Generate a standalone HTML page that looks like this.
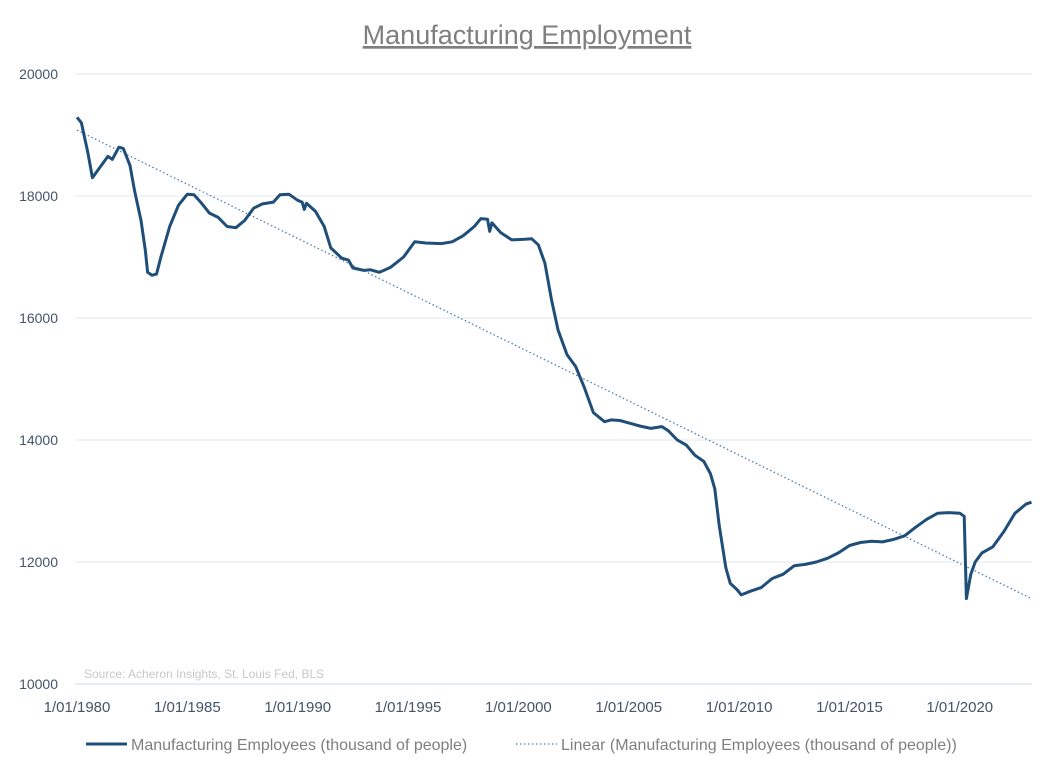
<!DOCTYPE html>
<html><head><meta charset="utf-8">
<style>
body{margin:0;background:#fff;font-family:"Liberation Sans",sans-serif;}
svg text{font-family:"Liberation Sans",sans-serif;}
</style></head>
<body>
<svg width="1056" height="768">
<text x="527" y="44" text-anchor="middle" font-size="27" fill="#7f7f7f" text-decoration="underline">Manufacturing Employment</text>
<g id="grid"></g>
<g id="yticks"></g>
<g id="xticks"></g>
<text x="84" y="678" font-size="12" fill="#c8c8c8">Source: Acheron Insights, St. Louis Fed, BLS</text>
<path id="trend" fill="none" stroke="#4a7fb0" stroke-width="1.3" stroke-dasharray="1.5,2.5"/>
<path id="series" fill="none" stroke="#1f4e79" stroke-width="3" stroke-linejoin="round"/>
<g>
<line x1="86" y1="744" x2="127" y2="744" stroke="#1f4e79" stroke-width="3"/>
<text x="131" y="750" font-size="16" fill="#7f7f7f">Manufacturing Employees (thousand of people)</text>
<line x1="516" y1="744" x2="557" y2="744" stroke="#4a7fb0" stroke-width="1.3" stroke-dasharray="1.5,2.5"/>
<text x="561" y="750" font-size="16" fill="#7f7f7f">Linear (Manufacturing Employees (thousand of people))</text>
</g>
</svg>
<script>
const yTicks=[10000,12000,14000,16000,18000,20000];
const xTickYears=[1980,1985,1990,1995,2000,2005,2010,2015,2020];
const xTickLabels=["1/01/1980","1/01/1985","1/01/1990","1/01/1995","1/01/2000","1/01/2005","1/01/2010","1/01/2015","1/01/2020"];
const years=[1980.0,1980.2,1980.5,1980.7,1981,1981.4,1981.6,1981.9,1982.1,1982.4,1982.6,1982.9,1983.1,1983.2,1983.4,1983.6,1983.8,1984.2,1984.6,1985,1985.3,1985.6,1986,1986.4,1986.8,1987.2,1987.6,1988,1988.4,1988.9,1989.2,1989.6,1990,1990.2,1990.3,1990.4,1990.8,1991.2,1991.5,1992,1992.3,1992.5,1993,1993.3,1993.7,1994.2,1994.8,1995.3,1995.8,1996.5,1997,1997.5,1998,1998.3,1998.6,1998.7,1998.8,1999.2,1999.7,2000.3,2000.6,2000.9,2001.2,2001.5,2001.8,2002.2,2002.6,2003,2003.4,2003.9,2004.2,2004.6,2005,2005.5,2006,2006.5,2006.8,2007.2,2007.6,2008,2008.4,2008.7,2008.9,2009.1,2009.4,2009.6,2009.9,2010.1,2010.5,2011,2011.5,2012,2012.5,2013,2013.5,2014,2014.5,2015,2015.5,2016,2016.5,2017,2017.5,2018,2018.5,2019,2019.5,2020.0,2020.2,2020.3,2020.5,2020.7,2021,2021.5,2022,2022.5,2023,2023.25];
const employees=[19290,19200,18700,18300,18450,18650,18600,18800,18780,18500,18100,17600,17100,16750,16700,16720,17000,17500,17850,18030,18020,17900,17720,17650,17500,17480,17600,17800,17870,17900,18020,18030,17930,17900,17780,17880,17750,17500,17150,16980,16950,16820,16780,16790,16750,16830,17000,17250,17230,17220,17250,17350,17500,17630,17620,17420,17560,17400,17280,17290,17300,17200,16900,16300,15800,15400,15200,14850,14450,14300,14330,14320,14280,14230,14190,14220,14150,14000,13920,13750,13650,13450,13200,12600,11900,11650,11550,11460,11520,11580,11730,11800,11940,11960,12000,12060,12150,12270,12320,12340,12330,12370,12430,12570,12700,12800,12810,12800,12750,11400,11800,12000,12150,12250,12500,12800,12950,12980];
const trendYears=[1980,2023.25];
const trendValues=[19080,11400];

const xs=y=>77+(y-1980)*22.07;
const ys=v=>684-(v-10000)*0.061;
const NS="http://www.w3.org/2000/svg";
const grid=document.getElementById('grid'),yt=document.getElementById('yticks'),xt=document.getElementById('xticks');
yTicks.forEach(v=>{
  const l=document.createElementNS(NS,'line');
  l.setAttribute('x1',75);l.setAttribute('x2',1032);l.setAttribute('y1',ys(v));l.setAttribute('y2',ys(v));
  l.setAttribute('stroke',v===10000?'#d0dbe3':'#e3e9ee');l.setAttribute('stroke-width',1);
  
  
  grid.appendChild(l);
  const t=document.createElementNS(NS,'text');
  t.setAttribute('x',58);t.setAttribute('y',ys(v)+5);t.setAttribute('text-anchor','end');
  t.setAttribute('font-size','14');t.setAttribute('fill','#44546a');t.textContent=v;
  
  
  yt.appendChild(t);
});
xTickYears.forEach((y,i)=>{
  const t=document.createElementNS(NS,'text');
  t.setAttribute('x',xs(y));t.setAttribute('y',712);t.setAttribute('text-anchor','middle');
  t.setAttribute('font-size','15');t.setAttribute('fill','#44546a');t.textContent=xTickLabels[i];
  
  
  xt.appendChild(t);
});
document.getElementById('series').setAttribute('d',years.map((y,i)=>(i?'L':'M')+xs(y).toFixed(1)+','+ys(employees[i]).toFixed(1)).join(''));
document.getElementById('trend').setAttribute('d',trendYears.map((y,i)=>(i?'L':'M')+xs(y).toFixed(1)+','+ys(trendValues[i]).toFixed(1)).join(''));
</script>
</body></html>
